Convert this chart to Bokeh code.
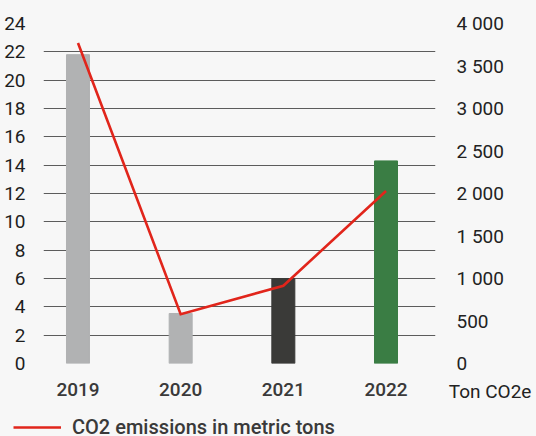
from bokeh.plotting import figure
from bokeh.layouts import column
from bokeh.models import Range1d, LinearAxis, FixedTicker, Label, Legend, LegendItem
from bokeh.embed import file_html
from bokeh.resources import INLINE

# ---- data ----
years = ["2019", "2020", "2021", "2022"]
bar_values = [21.8, 3.53, 6.0, 14.3]
bar_colors = ["#b1b2b3", "#b1b2b3", "#3a3a38", "#3a7d44"]
co2_tons = [3770, 580, 915, 2030]
left_ticks = [0, 2, 4, 6, 8, 10, 12, 14, 16, 18, 20, 22, 24]
right_ticks = [0, 500, 1000, 1500, 2000, 2500, 3000, 3500, 4000]
right_tick_labels = ["0", "500", "1 000", "1 500", "2 000", "2 500", "3 000", "3 500", "4 000"]
unit_label = "Ton CO2e"
legend_label = "CO2 emissions in metric tons"

# ---- style ----
bg = "#f7f7f7"
red = "#e1251b"
font = "Roboto"
font_med = "Roboto Medium"

x = list(range(len(years)))

p = figure(frame_width=392, frame_height=340,
           x_range=Range1d(-0.336, 3.482), y_range=Range1d(0, 24),
           output_backend="svg", toolbar_location=None,
           min_border_left=43, min_border_right=101, min_border_top=21, min_border_bottom=44,
           background_fill_color=bg, border_fill_color=bg, outline_line_color=None)
p.extra_y_ranges = {"co2": Range1d(0, 4000)}

p.vbar(x=x, top=bar_values, width=0.224, color=bar_colors)
p.line(x, co2_tons, y_range_name="co2", line_color=red, line_width=2.6, line_join="miter")

# grid
p.xgrid.visible = False
p.ygrid.ticker = FixedTicker(ticks=left_ticks)
p.ygrid.grid_line_color = "#5c5c5c"
p.ygrid.grid_line_width = 1

# left axis
ya = p.yaxis[0]
ya.ticker = FixedTicker(ticks=left_ticks)
ya.axis_line_color = None
ya.major_tick_line_color = None
ya.minor_tick_line_color = None
ya.major_label_standoff = 12
ya.major_label_text_font = font
ya.major_label_text_font_size = "19px"
ya.major_label_text_color = "#1e1e1e"

# right axis
ra = LinearAxis(y_range_name="co2", ticker=FixedTicker(ticks=right_ticks),
                major_label_overrides=dict(zip(right_ticks, right_tick_labels)))
ra.axis_line_color = None
ra.major_tick_line_color = None
ra.minor_tick_line_color = None
ra.major_label_standoff = 15
ra.major_label_text_font = font
ra.major_label_text_font_size = "19px"
ra.major_label_text_color = "#222222"
p.add_layout(ra, "right")

# x axis
xa = p.xaxis[0]
xa.ticker = FixedTicker(ticks=x)
xa.major_label_overrides = dict(zip(x, years))
xa.axis_line_color = None
xa.major_tick_line_color = None
xa.minor_tick_line_color = None
xa.major_label_standoff = 13
xa.major_label_text_font = font_med
xa.major_label_text_font_size = "19px"
xa.major_label_text_color = "#3a3a3a"

# unit label (in a side panel so it is not clipped to the frame; data units place it)
p.add_layout(Label(x=3.611, y=-1.98, text=unit_label,
                   text_baseline="middle", text_font=font, text_font_size="19px",
                   text_color="#222222"), "above")

# ---- legend strip below the chart ----
p2 = figure(width=536, height=30, x_range=Range1d(0, 1), y_range=Range1d(0, 1),
            output_backend="svg", toolbar_location=None, min_border=0,
            x_axis_location=None, y_axis_location=None,
            background_fill_color=bg, border_fill_color=bg, outline_line_color=None)
p2.xgrid.visible = False
p2.ygrid.visible = False
# same series drawn far outside this strip's ranges: only its legend key shows
key_r = p2.line(x, co2_tons, line_color=red, line_width=2.6)

legend_x = -30
try:
    p.frame_align = False
    p2.frame_align = False
    legend_x = 13
except Exception:
    legend_x = -30

legend = Legend(items=[LegendItem(label=legend_label, renderers=[key_r])],
                location=(legend_x, -2), orientation="horizontal",
                background_fill_alpha=0, border_line_color=None,
                padding=0, margin=0, spacing=0,
                glyph_width=48, glyph_height=20, label_height=20, label_standoff=11,
                label_text_font=font_med, label_text_font_size="20px", label_text_color="#3a3a3a")
p2.add_layout(legend)

layout = column(p, p2, spacing=0, styles={"background-color": bg})

open("out.html", "w").write(file_html(layout, INLINE))
